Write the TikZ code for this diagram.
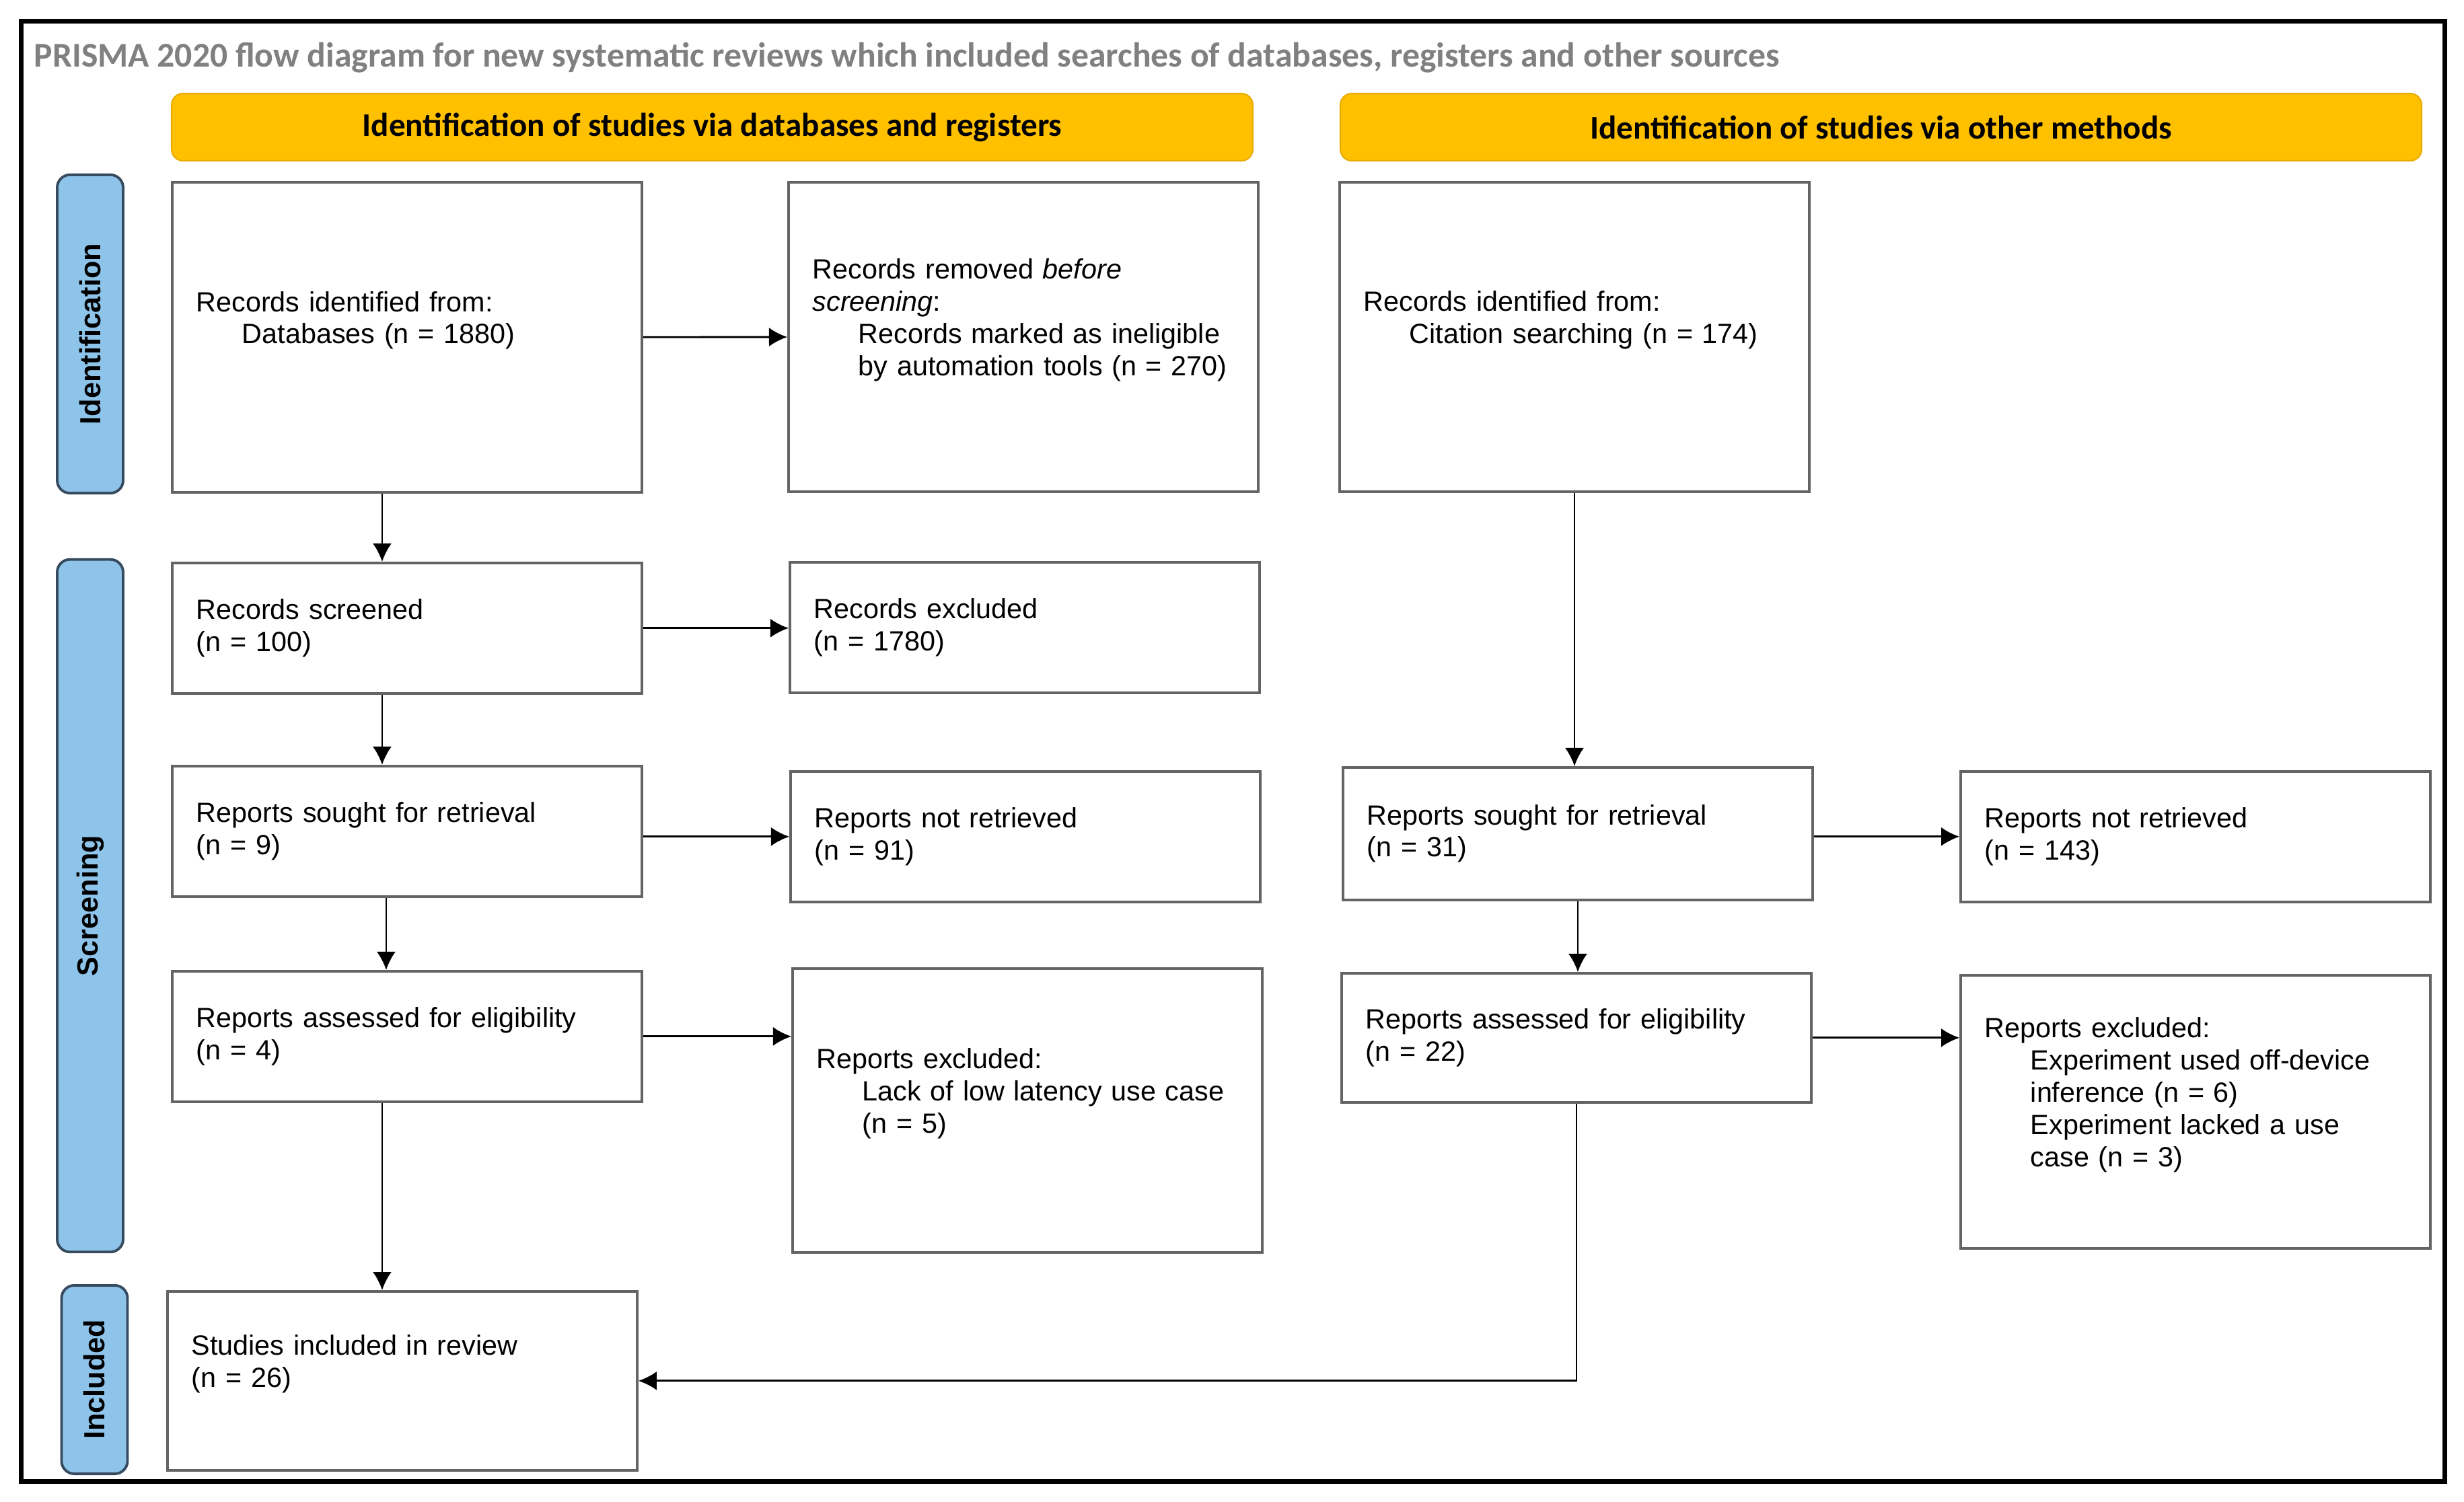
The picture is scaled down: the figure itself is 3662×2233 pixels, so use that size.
\documentclass[tikz,border=0pt]{standalone}
\usepackage{fontspec}
\setmainfont{Liberation Sans}
\newfontfamily\calibri{Carlito}
\usetikzlibrary{arrows.meta}

\definecolor{boxgray}{RGB}{100,100,100}
\definecolor{phaseblue}{RGB}{142,196,234}
\definecolor{phaseline}{RGB}{55,75,95}
\definecolor{bannerfill}{RGB}{255,192,0}
\definecolor{bannerline}{RGB}{232,172,0}
\definecolor{titlegray}{RGB}{128,128,128}

\newcommand{\ind}{\hspace*{0.68cm}}

\tikzset{
  box/.style={draw=boxgray, line width=1pt, fill=white, anchor=north west,
    align=left, text width=6.26cm, inner xsep=0.36cm, minimum height=1.94cm,
    font=\fontsize{11.75pt}{13.6pt}\selectfont},
  tallbox/.style={box, execute at end node={\par\vspace*{0.5cm}}},
  phase/.style={draw=phaseline, fill=phaseblue, line width=1.1pt,
    rounded corners=0.19cm, rotate=90, inner sep=0pt, minimum height=0.98cm,
    font=\bfseries\fontsize{12.3pt}{14pt}\selectfont},
  banner/.style={draw=bannerline, fill=bannerfill, line width=0.6pt,
    rounded corners=0.17cm, minimum width=16.06cm, minimum height=1cm,
    font=\calibri\bfseries\fontsize{13.95pt}{16pt}\selectfont},
  arr/.style={-{Latex[length=0.27cm,width=0.28cm]}, line width=0.8pt}
}

\begin{document}
\begin{tikzpicture}[x=0.01cm,y=-0.01cm]
\useasboundingbox (0,0) rectangle (3662,2233);
\draw[line width=0.07cm] (31.5,31.5) rectangle (3633,2202.5);

% title and headers
\node[anchor=base west, inner sep=0pt, text=titlegray,
  font=\calibri\bfseries\fontsize{14.7pt}{16pt}\selectfont] (title) at (50,99)
  {PRISMA 2020 flow diagram for new systematic reviews which included searches of databases, registers and other sources};
\node[banner] (ban_db) at (1058.5,189) {Identification of studies via databases and registers};
\node[banner] (ban_other) at (2795.5,189) {Identification of studies via other methods};

% phases
\node[phase, minimum width=4.73cm] (ph_id) at (134,496.5) {Identification};
\node[phase, minimum width=10.29cm] (ph_scr) at (134,1346.5) {Screening};
\node[phase, minimum width=2.80cm] (ph_inc) at (140.5,2051) {Included};

% databases and registers
\node[tallbox, minimum height=4.61cm] (dbrec) at (254,269)
  {Records identified from:\\\ind Databases (n = 1880)};
\node[tallbox, minimum height=4.60cm] (removed) at (1170,269)
  {Records removed \textit{before}\\\textit{screening}:\\\ind Records marked as ineligible\\\ind by automation tools (n = 270)};
\node[box] (screened) at (254,835) {Records screened\\(n = 100)};
\node[box] (excluded) at (1172,834) {Records excluded\\(n = 1780)};
\node[box] (sought_l) at (254,1137) {Reports sought for retrieval\\(n = 9)};
\node[box] (notret_l) at (1173,1145) {Reports not retrieved\\(n = 91)};
\node[box] (assess_l) at (254,1442) {Reports assessed for eligibility\\(n = 4)};
\node[tallbox, minimum height=4.22cm] (excl_l) at (1176,1438)
  {Reports excluded:\\\ind Lack of low latency use case\\\ind (n = 5)};
\node[tallbox, minimum height=2.66cm] (included) at (247,1918)
  {Studies included in review\\(n = 26)};

% other methods
\node[tallbox, minimum height=4.60cm] (citrec) at (1989,269)
  {Records identified from:\\\ind Citation searching (n = 174)};
\node[box, minimum height=1.97cm] (sought_r) at (1994,1139) {Reports sought for retrieval\\(n = 31)};
\node[box] (notret_r) at (2912,1145) {Reports not retrieved\\(n = 143)};
\node[box, minimum height=1.92cm] (assess_r) at (1992,1445) {Reports assessed for eligibility\\(n = 22)};
\node[tallbox, minimum height=4.06cm] (excl_r) at (2912,1448)
  {Reports excluded:\\\ind Experiment used off-device\\\ind inference (n = 6)\\\ind Experiment lacked a use\\\ind case (n = 3)};

% arrows
\draw[arr] (dbrec) -- (removed);
\draw[arr] ([xshift=-0.37cm]dbrec.south) -- ([xshift=-0.37cm]dbrec.south |- screened.north);
\draw[arr] (screened) -- (screened -| excluded.west);
\draw[arr] ([xshift=-0.37cm]screened.south) -- ([xshift=-0.37cm]screened.south |- sought_l.north);
\draw[arr] (sought_l.east |- notret_l) -- (notret_l);
\draw[arr] ([xshift=-0.31cm]sought_l.south) -- ([xshift=-0.31cm]sought_l.south |- assess_l.north);
\draw[arr] (assess_l) -- (assess_l -| excl_l.west);
\draw[arr] ([xshift=-0.37cm]assess_l.south) -- ([xshift=-0.37cm]assess_l.south |- included.north);
\draw[arr] (citrec) -- (citrec |- sought_r.north);
\draw[arr] (sought_r.east |- notret_r) -- (notret_r);
\draw[arr] (sought_r) -- (sought_r |- assess_r.north);
\draw[arr] (assess_r) -- (assess_r -| excl_r.west);
\draw[arr] (assess_r.south) |- (included);
\end{tikzpicture}
\end{document}
